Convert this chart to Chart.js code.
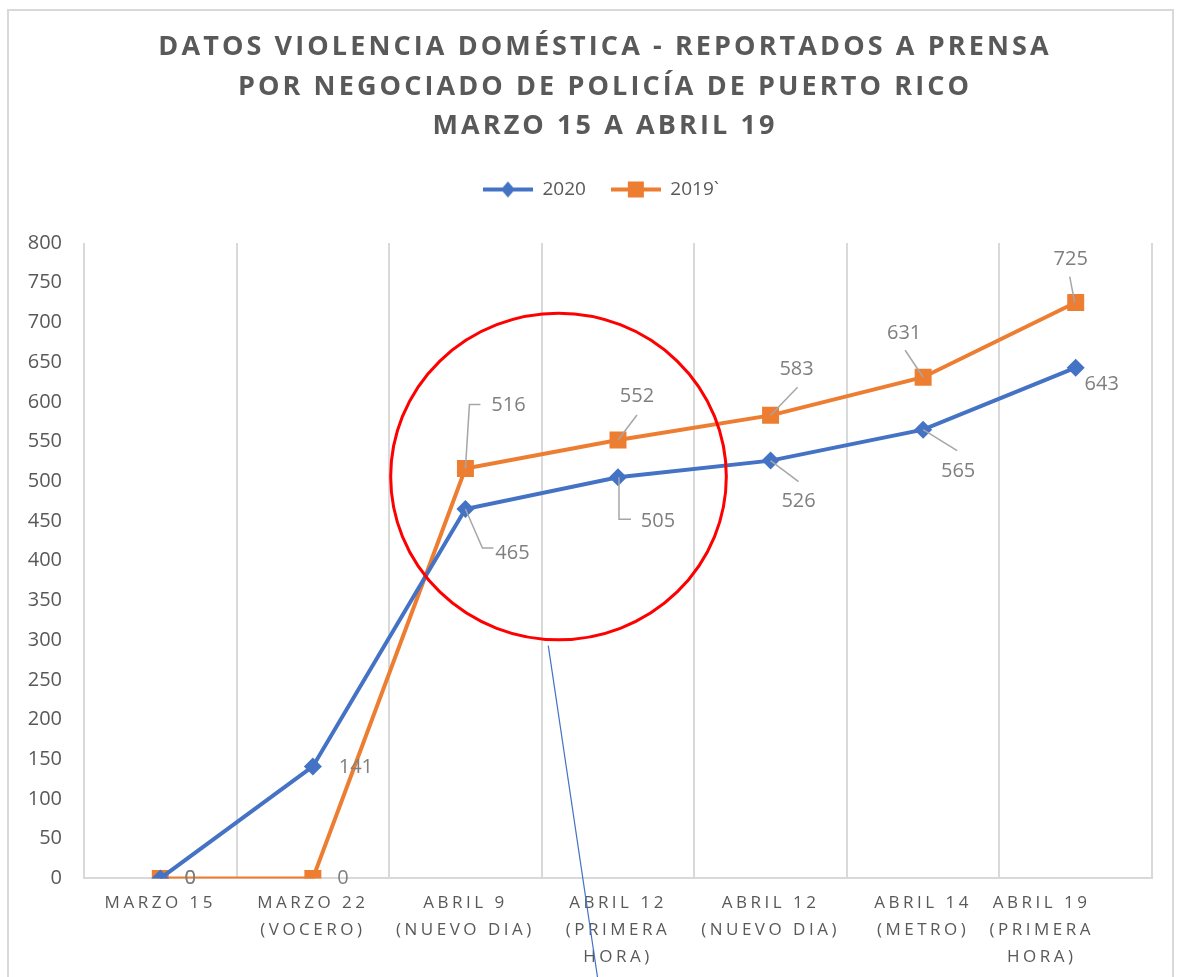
<!DOCTYPE html>
<html>
<head>
<meta charset="utf-8">
<script src="https://cdn.jsdelivr.net/npm/chart.js@4/dist/chart.umd.min.js"></script>
<style>
  body { margin: 0; background: #fff; }
  #wrap { position: relative; width: 1177px; height: 977px; overflow: hidden; }
  #frame { position: absolute; left: 7px; top: 9px; width: 1163px; height: 1000px; border: 2px solid #d9d9d9; }
  #title {
    position: absolute; left: 0; top: 25px; width: 1210px; text-align: center;
    font-family: 'Open Sans', sans-serif; font-weight: 700; font-size: 27px;
    letter-spacing: 3.1px; line-height: 39.5px; color: #595959;
  }
  canvas { position: absolute; left: 0; top: 0; }
</style>
</head>
<body>
<div id="wrap">
  <div id="frame"></div>
  <canvas id="chart" width="1177" height="977"></canvas>
  <div id="title">DATOS VIOLENCIA DOMÉSTICA - REPORTADOS A PRENSA<br>POR NEGOCIADO DE POLICÍA DE PUERTO RICO<br>MARZO 15 A ABRIL 19</div>
</div>
<script>
// categories (multi-line tick labels)
const categories = [
  ['MARZO 15'],
  ['MARZO 22', '(VOCERO)'],
  ['ABRIL 9', '(NUEVO DIA)'],
  ['ABRIL 12', '(PRIMERA', 'HORA)'],
  ['ABRIL 12', '(NUEVO DIA)'],
  ['ABRIL 14', '(METRO)'],
  ['ABRIL 19', '(PRIMERA', 'HORA)']
];
const seriesNames = ['2020', '2019`'];
const values2020 = [0, 141, 465, 505, 526, 565, 643];
const values2019 = [0, 0, 516, 552, 583, 631, 725];
const yTicks = { min: 0, max: 800, step: 50 };

const BLUE = '#4472C4';
const ORANGE = '#ED7D31';

// label placement (pixel offsets from the point, leader paths)
const labelPos2020 = [
  { dx: 30, dy: 0 },
  { dx: 43, dy: 1 },
  { dx: 47, dy: 44, lead: [[0, 0], [17, 39], [28, 39]] },
  { dx: 40, dy: 44, lead: [[1, 0], [1, 42], [13, 42]] },
  { dx: 28, dy: 41, lead: [[0, 0], [28, 21]] },
  { dx: 35, dy: 42, lead: [[0, 0], [34, 21]] },
  { dx: 26, dy: 17 }
];
const labelPos2019 = [
  { dx: 30, dy: 0 },
  { dx: 30, dy: 0 },
  { dx: 43, dy: -63, lead: [[0, 0], [4, -64], [15, -64]] },
  { dx: 19, dy: -44, lead: [[0, 0], [19, -25]] },
  { dx: 26, dy: -46, lead: [[0, 0], [27, -28]] },
  { dx: -19, dy: -44, lead: [[0, 0], [-18, -27]] },
  { dx: -5, dy: -43, lead: [[-1, 0], [-6, -26]] }
];

function legendIcon(color, square) {
  const c = document.createElement('canvas');
  c.width = 50; c.height = 20;
  const g = c.getContext('2d');
  g.strokeStyle = color; g.lineWidth = 4;
  g.beginPath(); g.moveTo(0, 10); g.lineTo(50, 10); g.stroke();
  g.fillStyle = color;
  g.beginPath();
  if (square) {
    g.rect(17, 2, 16, 16);
  } else {
    g.moveTo(25, 2); g.lineTo(32, 10); g.lineTo(25, 18); g.lineTo(18, 10); g.closePath();
  }
  g.fill();
  return c;
}
const icons = [legendIcon(BLUE, false), legendIcon(ORANGE, true)];

const legendMargin = {
  id: 'legendMargin',
  beforeInit(chart) {
    const fit = chart.legend.fit;
    chart.legend.fit = function () {
      fit.bind(chart.legend)();
      this.height += 34;
    };
  },
  afterLayout(chart) {
    // center legend over the title rather than the canvas
    chart.legend.left += 25;
    chart.legend.right += 25;
  }
};

// spaced out x tick labels, last one pulled in from the edge
const spacedTicks = {
  id: 'spacedTicks',
  beforeDraw(chart) {
    const sx = chart.scales.x;
    if (sx._spaced) return;
    const origDraw = sx.drawLabels;
    sx.drawLabels = function (area) {
      const ctx = this.ctx;
      ctx.save();
      ctx.letterSpacing = '3.5px';
      origDraw.call(this, area);
      ctx.restore();
    };
    const origItems = sx._computeLabelItems;
    sx._computeLabelItems = function (area) {
      const items = origItems.call(this, area);
      const last = items[items.length - 1];
      if (last) last.options.translation[0] -= 34;
      return items;
    };
    sx._labelItems = null;
    sx._spaced = true;
  }
};

const dataLabels = {
  id: 'dataLabels',
  afterDatasetsDraw(chart) {
    const ctx = chart.ctx;
    const posSets = [labelPos2020, labelPos2019];
    ctx.save();
    ctx.font = '20px "Open Sans"';
    ctx.fillStyle = '#7F7F7F';
    ctx.textAlign = 'center';
    ctx.textBaseline = 'middle';
    ctx.strokeStyle = '#A6A6A6';
    ctx.lineWidth = 1.5;
    chart.data.datasets.forEach((ds, di) => {
      const meta = chart.getDatasetMeta(di);
      meta.data.forEach((pt, i) => {
        const p = posSets[di][i];
        if (p.lead) {
          ctx.beginPath();
          p.lead.forEach(([lx, ly], k) => {
            if (k === 0) ctx.moveTo(pt.x + lx, pt.y + ly);
            else ctx.lineTo(pt.x + lx, pt.y + ly);
          });
          ctx.stroke();
        }
        ctx.fillText(String(ds.data[i]), pt.x + p.dx, pt.y + p.dy);
      });
    });
    ctx.restore();
  }
};

// red circle + blue pointer line drawn over the chart
const annotations = {
  id: 'annotations',
  afterDraw(chart) {
    const { ctx, scales: { x, y } } = chart;
    ctx.save();
    const cx = x.getPixelForValue(2.61);
    const cy = y.getPixelForValue(506);
    const step = x.getPixelForValue(1) - x.getPixelForValue(0);
    ctx.strokeStyle = '#FF0000';
    ctx.lineWidth = 3;
    ctx.beginPath();
    ctx.ellipse(cx, cy, step * 1.1, step * 1.07, 0, 0, Math.PI * 2);
    ctx.stroke();
    ctx.strokeStyle = BLUE;
    ctx.lineWidth = 1.2;
    ctx.beginPath();
    ctx.moveTo(x.getPixelForValue(2.543), y.getPixelForValue(293));
    ctx.lineTo(x.getPixelForValue(2.87), y.getPixelForValue(-130));
    ctx.stroke();
    ctx.restore();
  }
};

const ctx = document.getElementById('chart').getContext('2d');
new Chart(ctx, {
  type: 'line',
  data: {
    labels: categories,
    datasets: [{
      label: seriesNames[0],
      data: values2020,
      borderColor: BLUE,
      backgroundColor: BLUE,
      borderWidth: 4,
      pointStyle: 'rectRot',
      pointRadius: 9,
      pointBorderWidth: 0,
      tension: 0
    }, {
      label: seriesNames[1],
      data: values2019,
      borderColor: ORANGE,
      backgroundColor: ORANGE,
      borderWidth: 4,
      pointStyle: 'rect',
      pointRadius: 12,
      pointBorderWidth: 0,
      tension: 0
    }]
  },
  options: {
    responsive: false,
    animation: false,
    layout: { padding: { top: 155, left: 0, right: 25, bottom: -5 } },
    plugins: {
      title: { display: false },
      tooltip: { enabled: false },
      legend: {
        position: 'top',
        labels: {
          usePointStyle: true,
          pointStyleWidth: 50,
          padding: 25,
          color: '#595959',
          font: { family: 'Open Sans', size: 19 },
          generateLabels: (chart) =>
            Chart.defaults.plugins.legend.labels.generateLabels(chart)
              .map((l, i) => ({ ...l, pointStyle: icons[i] }))
        }
      }
    },
    scales: {
      x: {
        offset: true,
        grid: { offset: true, color: '#D9D9D9', lineWidth: 2, drawTicks: false },
        border: { display: true, color: '#D9D9D9', width: 2 },
        ticks: {
          maxRotation: 0,
          autoSkip: false,
          padding: 11,
          color: '#595959',
          font: { family: 'Open Sans', size: 17, lineHeight: 1.6 }
        }
      },
      y: {
        min: yTicks.min,
        max: yTicks.max,
        grid: { display: false, drawTicks: false },
        border: { display: false },
        ticks: {
          stepSize: yTicks.step,
          padding: 22,
          color: '#595959',
          font: { family: 'Open Sans', size: 20 }
        },
        afterFit: (s) => { s.width = 84; }
      }
    }
  },
  plugins: [legendMargin, spacedTicks, dataLabels, annotations]
});
</script>
</body>
</html>
